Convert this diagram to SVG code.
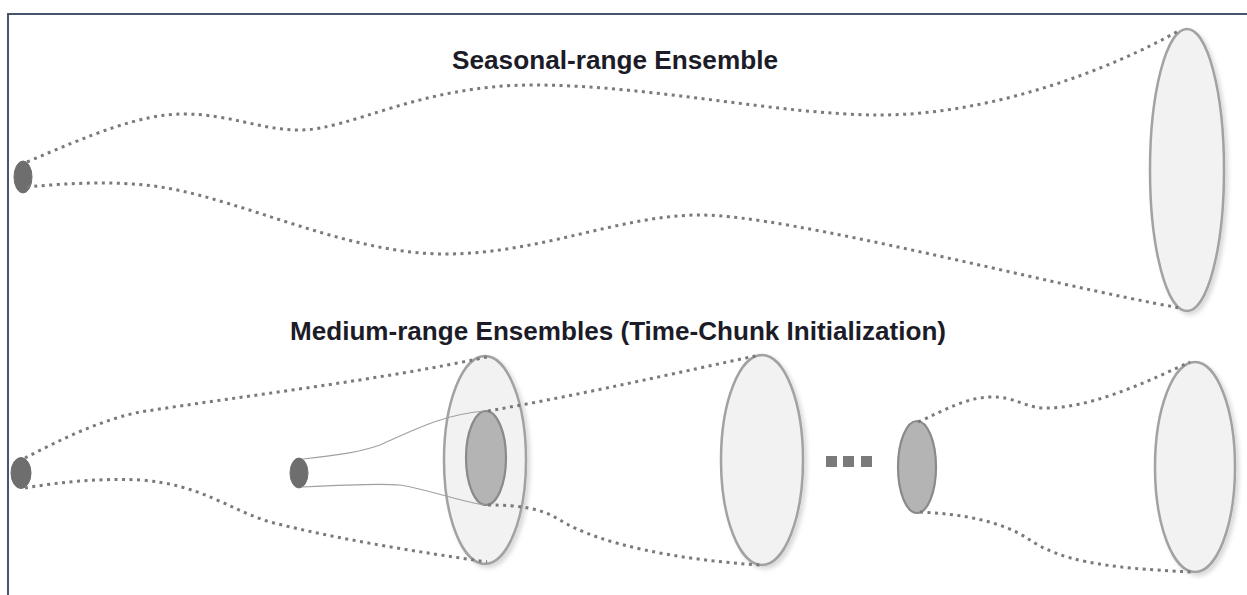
<svg xmlns="http://www.w3.org/2000/svg" width="1247" height="595" viewBox="0 0 1247 595">
<style>
.title{font-family:"Liberation Sans",Arial,sans-serif;font-weight:bold;font-size:26px;fill:#1c1c28}
.big{fill:#f2f2f2;stroke:#a2a2a2;stroke-width:2.5}
.mid{fill:#b4b4b4;stroke:#8a8a8a;stroke-width:2.2}
.seed{fill:#6e6e6e;stroke:#707070;stroke-width:1}
.dot{fill:none;stroke:#7a7a7a;stroke-width:3;stroke-dasharray:3 4.5}
.thin{fill:none;stroke:#a0a0a0;stroke-width:1.2}
.sq{fill:#7a7a7a}
</style>
<defs>
<filter id="sh" x="-30%" y="-10%" width="160%" height="125%">
<feDropShadow dx="3" dy="3" stdDeviation="2" flood-color="#000" flood-opacity="0.15"/>
</filter>
</defs>
<rect x="0" y="0" width="1247" height="595" fill="#fff"/>
<rect x="8" y="14" width="1260" height="600" fill="none" stroke="#46556b" stroke-width="2"/>
<text class="title" x="452" y="69" textLength="326" lengthAdjust="spacingAndGlyphs">Seasonal-range Ensemble</text>
<text class="title" x="290" y="340" textLength="656" lengthAdjust="spacingAndGlyphs">Medium-range Ensembles (Time-Chunk Initialization)</text>
<g id="nodes">
<g id="seasonal-start"><ellipse class="seed" cx="23" cy="177" rx="9" ry="16"/></g>
<g id="seasonal-end"><ellipse class="big" filter="url(#sh)" cx="1187" cy="170" rx="37" ry="141"/></g>
<g id="medium-start-1"><ellipse class="seed" cx="21" cy="473" rx="10" ry="15.5"/></g>
<g id="medium-end-1"><ellipse class="big" filter="url(#sh)" cx="485" cy="460" rx="41" ry="104"/></g>
<g id="medium-start-2"><ellipse class="seed" cx="299" cy="473" rx="9" ry="15"/></g>
<g id="medium-mid-2"><ellipse class="mid" cx="486" cy="458" rx="20" ry="47"/></g>
<g id="medium-end-2"><ellipse class="big" filter="url(#sh)" cx="762" cy="460" rx="41" ry="105"/></g>
<g id="ellipsis"><rect class="sq" x="826" y="456" width="11" height="11"/><rect class="sq" x="843" y="456" width="11" height="11"/><rect class="sq" x="861" y="456" width="11" height="11"/></g>
<g id="medium-start-n"><ellipse class="mid" cx="917" cy="467" rx="19" ry="46"/></g>
<g id="medium-end-n"><ellipse class="big" filter="url(#sh)" cx="1195" cy="467" rx="40" ry="105"/></g>
</g>
<g id="connectors">
<path class="dot" d="M27,162 C90,135 140,114 183,114 C230,114 260,130 300,130 C350,130 420,85 533,85 C650,85 780,115 880,115 C990,115 1110,70 1180,30"/>
<path class="dot" d="M27,187 C70,183 120,180 167,188 C250,203 350,254 445,254 C540,254 620,215 700,215 C790,215 1050,285 1180,308"/>
<path class="dot" d="M25,458 C60,440 100,420 140,412 C250,395 380,380 487,357"/>
<path class="dot" d="M25,488 C60,482 100,478 140,480 C200,484 230,510 270,522 C340,540 420,552 487,562"/>
<path class="thin" d="M303,459 C340,455 360,452 380,445 C410,432 440,415 484,411"/>
<path class="thin" d="M303,487 C340,485 380,483 400,485 C430,490 455,500 484,505"/>
<path class="dot" d="M488,411 C580,395 680,372 760,355"/>
<path class="dot" d="M488,505 C520,505 540,508 560,520 C600,545 680,560 760,565"/>
<path class="dot" d="M918,422 C945,410 965,398 990,397 C1015,396 1025,408 1045,408 C1090,408 1140,385 1190,362"/>
<path class="dot" d="M920,512 C960,514 1000,520 1030,540 C1060,560 1100,568 1193,572"/>
</g>
</svg>
